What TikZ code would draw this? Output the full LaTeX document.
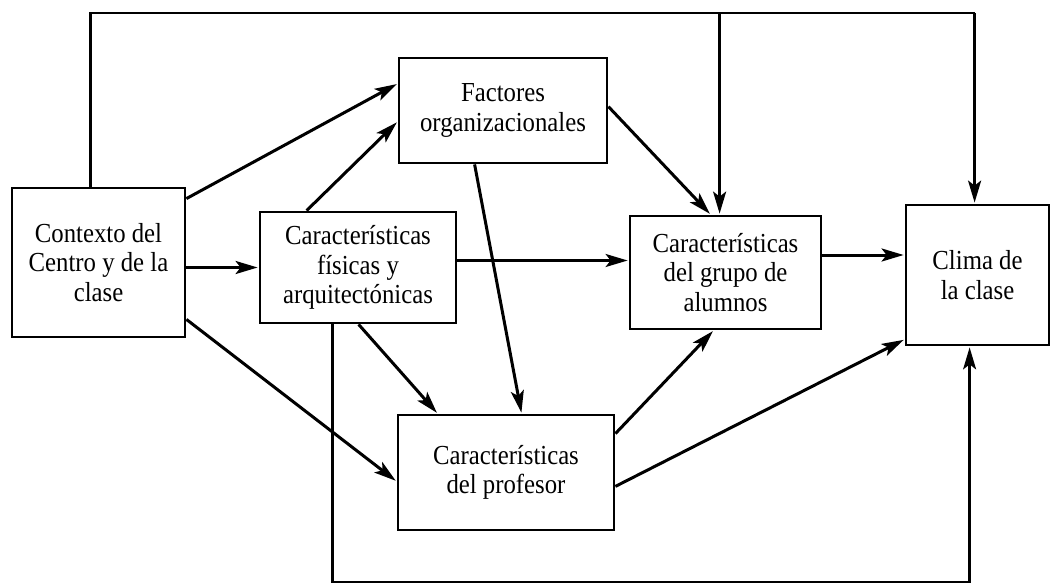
\documentclass[tikz,border=0pt]{standalone}
\usepackage{fontspec}
\setmainfont{Liberation Serif}[FakeStretch=0.9]
\usetikzlibrary{arrows.meta,calc}
\begin{document}
\begin{tikzpicture}[x=1pt,y=-1pt,
  box/.style={draw,line width=2.8pt,align=center,inner sep=0pt,
    font=\fontsize{27.5}{29.5}\selectfont},
  arr/.style={line width=3pt,-{Stealth[length=22pt,width=13pt,inset=5pt]},shorten >=1pt},
  thin/.style={line width=2.3pt},
  plain/.style={line width=2.8pt}]
\useasboundingbox (0,0) rectangle (1052,586);
\node[box,minimum width=173pt,minimum height=149pt] (A) at (98.5,262.5) {Contexto del\\Centro y de la\\clase};
\node[box,minimum width=208pt,minimum height=105pt] (F) at (503,110.5) {Factores\\organizacionales};
\node[box,minimum width=196pt,minimum height=111pt] (C) at (358,267.5) {Características\\físicas y\\arquitectónicas};
\node[box,minimum width=191pt,minimum height=113pt] (G) at (725.5,272.5) {Características\\del grupo de\\alumnos};
\node[box,minimum width=143pt,minimum height=140pt] (K) at (977.5,275) {Clima de\\la clase};
\node[box,minimum width=216pt,minimum height=115pt] (P) at (506,472.5) {Características\\del profesor};
% arrows
\draw[arr] ([yshift=-12pt]A.north east) -- ([yshift=-27pt]F.north west);
\draw[arr] ([xshift=48pt]C.north west) -- ([yshift=-65pt]F.north west);
\draw[arr] (A.east |- C.west) -- (C.west);
\draw[arr] ([yshift=19pt]A.south east) -- ([yshift=50pt]P.south west);
\coordinate (c1) at ([yshift=7pt]C.east);
\draw[arr,thin] (c1) -- (c1 -| G.west);
\draw[arr] ([xshift=100pt]C.south west) -- ([xshift=41pt]P.north west);
\draw[arr] ([xshift=77pt]F.south west) -- ([xshift=125pt]P.north west);
\draw[arr] ([yshift=-50pt]F.north east) -- ([xshift=82pt]G.north west);
\coordinate (g2) at ([yshift=17.5pt]G.east);
\draw[arr] (g2) -- (g2 -| K.west);
\draw[arr] ([yshift=-20pt]P.north east) -- ([xshift=85pt]G.south west);
\draw[arr] ([yshift=45pt]P.south east) -- ([yshift=7pt]K.south west);
% top loop
\coordinate (t1) at ([xshift=80pt]A.north west);
\coordinate (tg) at ([xshift=91pt]G.north west);
\coordinate (tk) at ([xshift=70pt]K.north west);
\draw[plain] (t1) -- (t1 |- 0,13) -- (tk |- 0,13);
\draw[arr,plain] (tk |- 0,13) -- (tk);
\draw[arr,plain] (tg |- 0,13) -- (tg);
% bottom loop
\coordinate (b1) at ([xshift=74pt]C.south west);
\coordinate (bk) at ([xshift=65pt]K.south west);
\draw[arr,thin] (b1) -- (b1 |- 0,582) -| (bk);
\end{tikzpicture}
\end{document}
